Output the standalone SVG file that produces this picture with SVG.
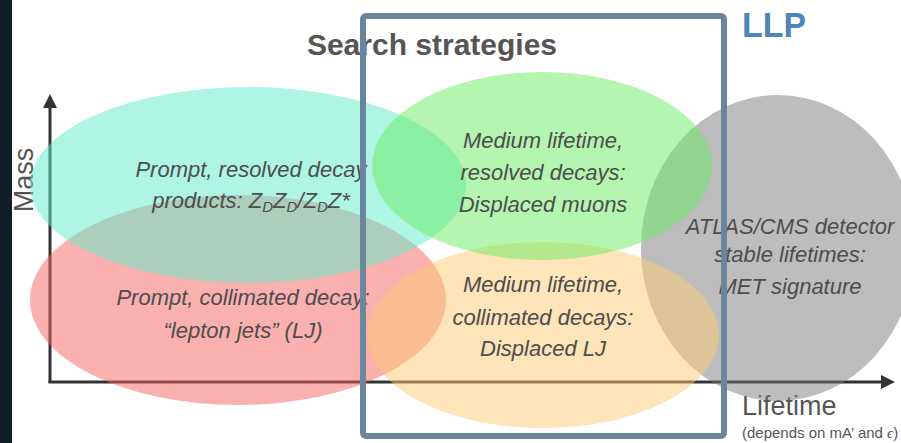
<svg xmlns="http://www.w3.org/2000/svg" width="901" height="443" viewBox="0 0 901 443">
<style>
  .lbl { font-family: "Liberation Sans", Arial, sans-serif; font-size: 22px; font-style: italic; fill: #4d4d4d; text-anchor: middle; }
  .sub { font-size: 15px; }
  .axis { stroke: #333333; stroke-width: 3; fill: none; }
  .ax-lbl { font-family: "Liberation Sans", Arial, sans-serif; font-size: 27px; fill: #555555; }
  .blob { fill-opacity: 0.5; }
</style>
<defs>
  <marker id="arrow" markerUnits="userSpaceOnUse" markerWidth="14" markerHeight="14" refX="0" refY="7" orient="auto">
    <path d="M0,0 L14,7 L0,14 z" fill="#333333"/>
  </marker>
</defs>
<rect x="0" y="0" width="901" height="443" fill="#ffffff"/>
<rect x="0" y="0" width="12" height="443" fill="#0f1e24"/>

<g id="connectors">
  <line class="axis" x1="50" y1="383" x2="50" y2="108" marker-end="url(#arrow)"/>
  <line class="axis" x1="48.5" y1="382" x2="881" y2="382" marker-end="url(#arrow)"/>
</g>

<text x="432" y="55" font-family="Liberation Sans, Arial, sans-serif" font-size="30" font-weight="bold" fill="#555555" text-anchor="middle">Search strategies</text>
<text class="ax-lbl" transform="translate(33,180) rotate(-90)" text-anchor="middle">Mass</text>
<text class="ax-lbl" x="742" y="415">Lifetime</text>
<text x="742" y="438" font-family="Liberation Sans, Arial, sans-serif" font-size="15" fill="#555555">(depends on mA’ and <tspan font-family="Liberation Serif, serif" font-style="italic">ϵ</tspan>)</text>

<g id="stable">
  <ellipse class="blob" cx="778" cy="248" rx="137" ry="153" fill="rgb(123,123,123)"/>
  <text class="lbl" x="790" y="234">ATLAS/CMS detector</text>
  <text class="lbl" x="790" y="262">stable lifetimes:</text>
  <text class="lbl" x="790" y="294">MET signature</text>
</g>
<g id="prompt-collimated">
  <ellipse class="blob" cx="238" cy="300" rx="208" ry="105" fill="rgb(243,97,93)"/>
  <text class="lbl" x="243" y="305">Prompt, collimated decay:</text>
  <text class="lbl" x="243" y="338">“lepton jets” (LJ)</text>
</g>
<g id="prompt-resolved">
  <ellipse class="blob" cx="248" cy="185" rx="218" ry="98" fill="rgb(95,235,201)"/>
  <text class="lbl" x="251" y="177">Prompt, resolved decay</text>
  <text class="lbl" x="251" y="208">products: Z<tspan class="sub" dy="4">D</tspan><tspan dy="-4">Z</tspan><tspan class="sub" dy="4">D</tspan><tspan dy="-4">/Z</tspan><tspan class="sub" dy="4">D</tspan><tspan dy="-4">Z*</tspan></text>
</g>
<g id="medium-collimated">
  <ellipse class="blob" cx="543" cy="335" rx="176" ry="93" fill="rgb(251,201,115)"/>
  <text class="lbl" x="543" y="292">Medium lifetime,</text>
  <text class="lbl" x="543" y="325">collimated decays:</text>
  <text class="lbl" x="543" y="356">Displaced LJ</text>
</g>
<g id="medium-resolved">
  <ellipse class="blob" cx="542" cy="166" rx="170" ry="94" fill="rgb(105,235,97)"/>
  <text class="lbl" x="543" y="148">Medium lifetime,</text>
  <text class="lbl" x="543" y="180">resolved decays:</text>
  <text class="lbl" x="543" y="212">Displaced muons</text>
</g>

<g id="llp">
  <rect x="363" y="16" width="361" height="420" rx="3" fill="none" stroke="#6b869c" stroke-width="6"/>
  <text x="742" y="37" font-family="Liberation Sans, Arial, sans-serif" font-size="35" font-weight="bold" fill="#4f86ba" textLength="64" lengthAdjust="spacingAndGlyphs">LLP</text>
</g>
</svg>
